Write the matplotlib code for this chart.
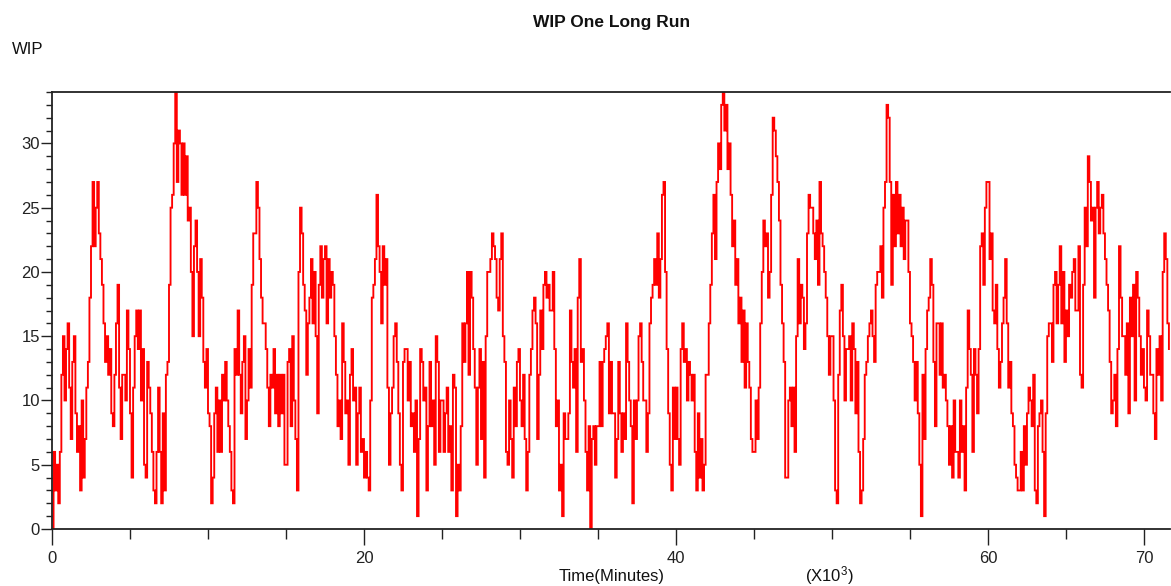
import numpy as np
import matplotlib
matplotlib.use("Agg")
import matplotlib.pyplot as plt
from matplotlib.ticker import FixedLocator, FuncFormatter, NullFormatter

plt.rcParams['font.family'] = ['Liberation Sans', 'DejaVu Sans']
plt.rcParams['mathtext.default'] = 'regular'

# WIP level recorded every 100 minutes over one long simulation run
STEP_MIN = 100

wip_00k = [0, 6, 3, 5, 2, 6, 12, 15, 10, 14,
           16, 11, 7, 13, 15, 9, 6, 8, 3, 10,
           4, 7, 11, 13, 18, 22, 27, 22, 25, 27,
           23, 21, 19, 16, 13, 15, 12, 14, 9, 8,
           12, 16, 19, 11, 7, 12, 12, 10, 17, 14,
           9, 4, 11, 15, 17, 14, 17, 10, 14, 5,
           4, 13, 11, 9, 6, 3, 2, 6, 11, 6,
           2, 9, 3, 12, 13, 19, 25, 26, 30, 34,
           27, 31, 30, 26, 30, 26, 29, 24, 25, 20,
           15, 22, 24, 20, 15, 21, 18, 13, 11, 14]

wip_10k = [9, 8, 2, 4, 9, 11, 6, 10, 6, 12,
           10, 13, 10, 8, 6, 3, 2, 14, 12, 17,
           12, 9, 13, 15, 7, 10, 14, 11, 19, 23,
           23, 27, 25, 21, 18, 16, 16, 14, 11, 8,
           12, 11, 14, 9, 12, 8, 12, 9, 12, 5,
           5, 13, 14, 8, 15, 10, 7, 3, 20, 25,
           23, 19, 17, 12, 16, 18, 21, 16, 20, 15,
           9, 19, 22, 18, 21, 22, 16, 21, 18, 20,
           19, 15, 12, 8, 10, 7, 16, 13, 9, 10,
           5, 12, 14, 10, 11, 5, 9, 11, 6, 7]

wip_20k = [4, 6, 4, 3, 10, 18, 19, 21, 26, 22,
           20, 16, 22, 19, 21, 11, 5, 9, 11, 15,
           16, 13, 9, 5, 3, 13, 14, 14, 10, 13,
           8, 9, 6, 10, 1, 7, 14, 13, 10, 11,
           3, 8, 13, 8, 10, 5, 15, 13, 6, 10,
           10, 6, 9, 11, 6, 8, 3, 12, 11, 1,
           5, 3, 8, 16, 13, 16, 20, 12, 20, 18,
           14, 11, 5, 11, 14, 7, 13, 4, 15, 20,
           20, 21, 23, 22, 21, 18, 17, 21, 23, 15,
           13, 6, 5, 10, 7, 4, 11, 8, 13, 14]

wip_30k = [10, 8, 12, 7, 3, 6, 12, 14, 17, 18,
           16, 7, 12, 17, 14, 19, 20, 18, 19, 17,
           17, 20, 14, 8, 10, 3, 5, 1, 9, 7,
           7, 9, 17, 13, 11, 14, 6, 18, 21, 13,
           14, 10, 6, 3, 8, 0, 7, 8, 5, 8,
           8, 13, 8, 13, 14, 15, 16, 9, 13, 9,
           9, 4, 7, 13, 9, 6, 9, 7, 16, 13,
           10, 8, 2, 10, 7, 10, 15, 16, 13, 10,
           10, 6, 9, 16, 18, 19, 21, 19, 23, 18,
           21, 26, 27, 20, 14, 9, 5, 3, 11, 7]

wip_40k = [11, 7, 5, 14, 16, 13, 14, 10, 13, 12,
           10, 12, 6, 3, 9, 4, 7, 3, 5, 12,
           12, 16, 19, 23, 26, 21, 27, 30, 28, 33,
           34, 31, 33, 28, 30, 26, 22, 24, 19, 21,
           16, 18, 13, 17, 11, 16, 13, 11, 7, 6,
           6, 10, 7, 11, 16, 20, 24, 22, 23, 18,
           20, 26, 32, 31, 29, 27, 24, 19, 16, 13,
           4, 4, 10, 11, 8, 11, 6, 15, 21, 16,
           19, 18, 14, 16, 23, 26, 25, 25, 23, 21,
           24, 19, 27, 23, 22, 20, 18, 15, 12, 15]

wip_50k = [15, 10, 3, 2, 12, 17, 19, 15, 10, 14,
           14, 15, 10, 16, 14, 9, 13, 6, 2, 3,
           7, 12, 13, 15, 16, 17, 15, 13, 19, 20,
           20, 22, 18, 25, 27, 33, 32, 27, 19, 26,
           22, 27, 23, 26, 22, 25, 21, 24, 24, 20,
           16, 15, 13, 10, 13, 9, 5, 1, 12, 7,
           14, 17, 18, 21, 19, 13, 8, 16, 16, 12,
           16, 11, 12, 10, 8, 5, 8, 4, 10, 6,
           6, 4, 10, 6, 8, 3, 11, 17, 14, 12,
           6, 14, 12, 9, 14, 22, 23, 19, 25, 27]

wip_60k = [27, 21, 23, 17, 16, 19, 14, 11, 13, 16,
           18, 21, 16, 11, 13, 9, 8, 5, 4, 3,
           3, 6, 3, 8, 5, 9, 11, 10, 8, 12,
           3, 2, 8, 9, 10, 6, 1, 9, 15, 16,
           16, 13, 19, 20, 16, 19, 22, 16, 20, 13,
           17, 15, 19, 18, 20, 21, 17, 17, 22, 12,
           11, 19, 25, 22, 29, 27, 24, 25, 18, 25,
           27, 23, 25, 26, 23, 21, 19, 17, 13, 9,
           10, 12, 8, 14, 22, 18, 15, 15, 12, 16,
           9, 18, 15, 19, 10, 20, 18, 15, 12, 14]

wip_70k = [11, 10, 17, 15, 12, 12, 9, 7, 14, 12,
           15, 10, 20, 23, 21, 16, 14]

# Axis ticks (thousands of minutes / WIP units)
x_major_k = [0, 20, 40, 60, 70]
x_minor_k = [5, 10, 15, 25, 30, 35, 45, 50, 55, 65]
y_major = [0, 5, 10, 15, 20, 25, 30]
y_minor = list(range(0, 35))

wip = np.array(wip_00k + wip_10k + wip_20k + wip_30k +
               wip_40k + wip_50k + wip_60k + wip_70k)
time_min = np.arange(len(wip)) * STEP_MIN

W, H = 1171, 586
fig = plt.figure(figsize=(W / 100, H / 100), dpi=100)
ax = fig.add_axes([52 / W, 1 - 529 / H, (1170 - 52) / W, (529 - 92) / H])

ax.plot(time_min, wip, drawstyle='steps-post', color='#ff0000', lw=1.35,
        solid_joinstyle='miter')

ax.set_xlim(0, 71670)
ax.set_ylim(0, 34)

ax.xaxis.set_major_locator(FixedLocator([v * 1000 for v in x_major_k]))
ax.xaxis.set_minor_locator(FixedLocator([v * 1000 for v in x_minor_k]))
ax.xaxis.set_major_formatter(FuncFormatter(lambda v, p: f"{v / 1000:.0f}"))
ax.xaxis.set_minor_formatter(NullFormatter())
ax.yaxis.set_major_locator(FixedLocator(y_major))
ax.yaxis.set_minor_locator(FixedLocator(y_minor))

tick_color = '#222222'
ax.tick_params(axis='x', which='major', direction='out', length=11.5, width=1.0,
               pad=4, labelsize=12, colors=tick_color)
ax.tick_params(axis='x', which='minor', direction='out', length=7.2, width=1.0,
               colors=tick_color)
ax.tick_params(axis='y', which='major', direction='out', length=7.7, width=1.0,
               pad=1, labelsize=12, colors=tick_color)
ax.tick_params(axis='y', which='minor', direction='out', length=4.1, width=1.0,
               colors=tick_color)

for side in ('left', 'bottom', 'top'):
    ax.spines[side].set_color(tick_color)
    ax.spines[side].set_linewidth(1.3)
ax.spines['right'].set_visible(False)

fig.text(612 / W, 1 - 22 / H, "WIP One Long Run", ha='center', va='center',
         fontsize=12.5, fontweight='bold', color='#111111')
fig.text(12 / W, 1 - 50 / H, "WIP", ha='left', va='center', fontsize=12,
         color='#111111')
fig.text(612 / W, 1 - 577 / H, "Time(Minutes)", ha='center', va='center',
         fontsize=12, color='#111111')
fig.text(829 / W, 1 - 576 / H, "(X10$^3$)", ha='center', va='center',
         fontsize=12, color='#111111')

fig.savefig("out.png", dpi=100)
